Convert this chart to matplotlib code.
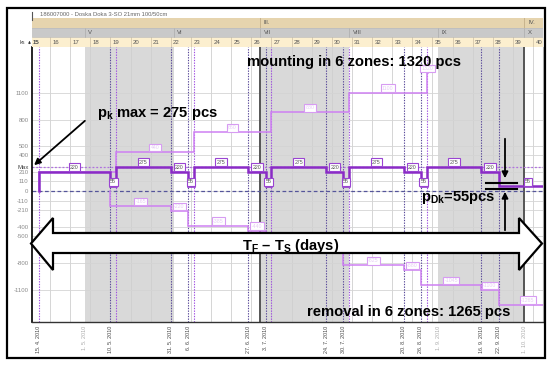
import matplotlib
matplotlib.use("Agg")
import matplotlib.pyplot as plt
from matplotlib.patches import Rectangle, Polygon
import matplotlib.transforms as mtransforms

plt.rcParams['font.family'] = ['Liberation Sans', 'DejaVu Sans']
plt.rcParams['mathtext.fontset'] = 'custom'
plt.rcParams['mathtext.rm'] = 'Liberation Sans:bold'
plt.rcParams['mathtext.it'] = 'Liberation Sans:bold'
plt.rcParams['mathtext.bf'] = 'Liberation Sans:bold'

# ---------------- data (x in days since Monday 12.4.2010) ----------------
title = "186007000 - Doska Doka 3-SO 21mm 100/50cm"
week_numbers = list(range(15, 41))
month_labels = ["V", "VI", "VII", "VIII", "IX", "X"]
month_starts = [19, 50, 80, 111, 142, 172]
quarter_labels = ["III.", "IV."]
quarter_starts = [80, 172]
shaded_months = [(19, 50), (80, 111), (142, 172)]

ytick_values = [1100, 800, 500, 400, 275, 210, 110, 0, -110, -210, -400, -500, -800, -1100]
ytick_labels = ["1100", "800", "500", "400", "Max", "210", "110", "0", "-110", "-210",
                "-400", "-500", "-800", "-1100"]

date_days = [3, 19, 28, 49, 55, 76, 82, 103, 109, 130, 136, 142, 157, 163, 172]
date_labels = ["15. 4. 2010", "1. 5. 2010", "10. 5. 2010", "31. 5. 2010", "6. 6. 2010",
               "27. 6. 2010", "3. 7. 2010", "24. 7. 2010", "30. 7. 2010", "20. 8. 2010",
               "26. 8. 2010", "1. 9. 2010", "16. 9. 2010", "22. 9. 2010", "1. 10. 2010"]
date_month_start = [False, True, False, False, False, False, False, False, False, False,
                    False, True, False, False, True]

balance_days = [3, 28, 30, 49, 55, 57, 76, 82, 84, 103, 109, 111, 130, 136, 138, 157, 163]
balance_vals = [220, 55, 275, 220, 55, 275, 220, 55, 275, 220, 55, 275, 220, 55, 275, 220, 55]
mount_days = [3, 30, 57, 84, 111, 138]
mount_vals = [220, 440, 660, 880, 1100, 1320]
removal_days = [28, 49, 55, 76, 82, 103, 109, 130, 136, 157, 163]
removal_vals = [-165, -220, -385, -440, -605, -660, -825, -880, -1045, -1100, -1265]
hidden_labels = [220, -605, -660]     # covered by other marks in the reference
mount_end = 138.6
series_end = 183.5

# ---------------- layout helpers ----------------
W, H = 550, 366
fig = plt.figure(figsize=(5.5, 3.66), dpi=100)


def fx(px):
    return px / W


def fy(py):
    return 1 - py / H


X0, XS = 29.9, 2.875        # pixel = X0 + day * XS
L, R, T, B = 32, 543, 47, 322
xlim = ((L - X0) / XS, (R - X0) / XS)
ylim = (-1459, 1610)

ax = fig.add_axes([fx(L), fy(B), (R - L) / W, (B - T) / H])
ax.set_xlim(*xlim)
ax.set_ylim(*ylim)

week_starts = [7 * (w - 15) for w in week_numbers]

for a, b in shaded_months:
    ax.axvspan(a, b, color="#D9D9D9", lw=0, zorder=0)

for s in week_starts:
    ax.axvline(s, color="#CFCFCF", lw=0.6, zorder=0.5)
for v in ytick_values:
    ax.axhline(v, color="#D4D4D4", lw=0.6, zorder=0.5)
for q in quarter_starts:
    ax.axvline(q, color="#555555", lw=1.4, zorder=1)

ax.axhline(275, color="#B070E0", lw=0.9, ls=(0, (1.5, 1.5)), zorder=1.2)
ax.axhline(0, color="#55559A", lw=0.9, ls=(0, (3, 2)), zorder=1.2)

for d in mount_days:
    ax.axvline(d, color="#A050E0", lw=0.8, ls=(0, (1.2, 1.2)), zorder=1.1)
for d in removal_days:
    ax.axvline(d, color="#5A4A9A", lw=0.8, ls=(0, (1.2, 1.2)), zorder=1.1)


def step_xy(days, vals, end, start_val=0):
    xs, ys = [days[0]], [start_val]
    segs = []
    for i, (d, v) in enumerate(zip(days, vals)):
        nxt = days[i + 1] if i + 1 < len(days) else end
        xs += [d, nxt]
        ys += [v, v]
        segs.append(((d + nxt) / 2, v))
    return xs, ys, segs


light = "#CE80F2"
dark = "#8A2BC6"

for days, vals, end in [(mount_days, mount_vals, mount_end),
                        (removal_days, removal_vals, series_end)]:
    xs, ys, segs = step_xy(days, vals, end)
    ax.plot(xs, ys, color=light, lw=1.1, zorder=2, solid_joinstyle="miter")
    for xm, v in segs:
        if v in hidden_labels:
            continue
        ax.annotate(str(v), (xm, v), xytext=(0, 3.2), textcoords="offset points",
                    ha="center", va="center", fontsize=3.8, color="#E6CCF5", zorder=3,
                    bbox=dict(boxstyle="square,pad=0.25", fc="white", ec="#D79CF2", lw=0.8))

xs, ys, segs = step_xy(balance_days, balance_vals, series_end)
ax.plot(xs, ys, color=dark, lw=1.8, zorder=4, solid_joinstyle="miter")
for xm, v in segs:
    ax.annotate(str(v), (xm, v), xytext=(0, 3.2), textcoords="offset points",
                ha="center", va="center", fontsize=3.8, color="#555555", zorder=5,
                bbox=dict(boxstyle="square,pad=0.25", fc="white", ec="#9A45D2", lw=0.8))

ax.set_xticks([])
ax.set_yticks(ytick_values)
ax.set_yticklabels(ytick_labels)
ax.tick_params(axis="y", length=0, pad=2.5, labelsize=4.3, labelcolor="#8A8A8A")
for lab in ax.get_yticklabels():
    if lab.get_text() == "Max":
        lab.set_color("#444444")
ax.spines["left"].set_color("black")
ax.spines["left"].set_linewidth(1.2)
ax.spines["bottom"].set_color("#333333")
ax.spines["bottom"].set_linewidth(1.0)
ax.spines["top"].set_visible(False)
ax.spines["right"].set_color("#BBBBBB")
ax.spines["right"].set_linewidth(0.8)

trans = mtransforms.blended_transform_factory(ax.transData, ax.transAxes)
for d, lab, ms in zip(date_days, date_labels, date_month_start):
    ax.text(d, -0.012, lab, transform=trans, rotation=90, ha="center", va="top",
            fontsize=3.9, color="#AAAAAA" if ms else "#444444", clip_on=False)

# ---------------- header rows ----------------
hd = fig.add_axes([fx(L), fy(T), (R - L) / W, (T - 18) / H])
hd.set_xlim(*xlim)
hd.set_ylim(0, 3)
hd.axis("off")
hd.add_patch(Rectangle((xlim[0], 2), xlim[1] - xlim[0], 1, fc="#E6D4AE", ec="none"))
hd.add_patch(Rectangle((xlim[0], 1), xlim[1] - xlim[0], 1, fc="#C9C9C9", ec="none"))
hd.add_patch(Rectangle((xlim[0], 0), xlim[1] - xlim[0], 1, fc="#FCEFCF", ec="none"))
for s, w in zip(week_starts, week_numbers):
    hd.plot([s, s], [0, 1], color="#D9CBB0", lw=0.7)
    if s + 0.6 < xlim[1]:
        hd.text(s + 0.8, 0.5, str(w), fontsize=4.3, color="#555555", ha="left", va="center")
hd.text(xlim[0] + 0.3, 0.5, "15", fontsize=4.3, color="#555555", ha="left", va="center")
for m, lab in zip(month_starts, month_labels):
    hd.plot([m, m], [1, 2], color="#B4B4B4", lw=0.7)
    hd.text(m + 1.3, 1.5, lab, fontsize=4.3, color="#555555", ha="left", va="center")
for q, lab in zip(quarter_starts, quarter_labels):
    hd.plot([q, q], [2, 3], color="#C8B48E", lw=0.7)
    hd.text(q + 1.3, 2.5, lab, fontsize=4.3, color="#555555", ha="left", va="center")
for y in [1, 2]:
    hd.plot(list(xlim), [y, y], color="#BBBBBB", lw=0.5)

# ---------------- overlay annotations (pixel coordinates) ----------------
ov = fig.add_axes([0, 0, 1, 1], zorder=10)
ov.set_xlim(0, W)
ov.set_ylim(H, 0)
ov.axis("off")
ov.patch.set_alpha(0)

ov.add_patch(Rectangle((7, 8), 538, 350, fill=False, ec="black", lw=1.6))
ov.text(40, 15, title, fontsize=4.2, color="#666666", ha="left", va="center")
ov.plot([32, 32], [12, 20], color="#555555", lw=0.8)
ov.text(25, 43, "ks", fontsize=4.0, color="#444444", ha="right", va="center")
ov.annotate("", xy=(29.5, 38), xytext=(29.5, 46.5),
            arrowprops=dict(arrowstyle="-|>", color="#333333", lw=0.6, mutation_scale=3))

bold = dict(fontsize=10.6, fontweight="bold", color="black")
ov.text(247, 62, "mounting in 6 zones: 1320 pcs", ha="left", va="center", **bold)
ov.text(97, 113, r"$p_k$ max = 275 pcs", ha="left", va="center", **bold)
ov.annotate("", xy=(32, 167), xytext=(87, 119),
            arrowprops=dict(arrowstyle="-|>", color="black", lw=1.3, mutation_scale=9))
ov.text(421, 198, r"$p_{Dk}$=55pcs", ha="left", va="center", **bold)
ov.annotate("", xy=(505, 181), xytext=(505, 136),
            arrowprops=dict(arrowstyle="-|>", color="black", lw=1.3, mutation_scale=9))
ov.plot([486, 517], [183, 183], color="black", lw=1.5)
ov.plot([486, 517], [188.5, 188.5], color="black", lw=1.5)
ov.annotate("", xy=(505, 189), xytext=(505, 233),
            arrowprops=dict(arrowstyle="-|>", color="black", lw=1.3, mutation_scale=9))

arrow_pts = [(31, 243.5), (53, 218), (53, 233), (519, 233), (519, 218), (542, 243.5),
             (519, 270), (519, 253), (53, 253), (53, 270)]
ov.add_patch(Polygon(arrow_pts, closed=True, fc="white", ec="black", lw=1.6))
ov.text(291, 246, r"$T_F$ – $T_S$ (days)", ha="center", va="center", **bold)
ov.text(307, 312, "removal in 6 zones: 1265 pcs", ha="left", va="center", **bold)

fig.savefig("out.png", dpi=100)
